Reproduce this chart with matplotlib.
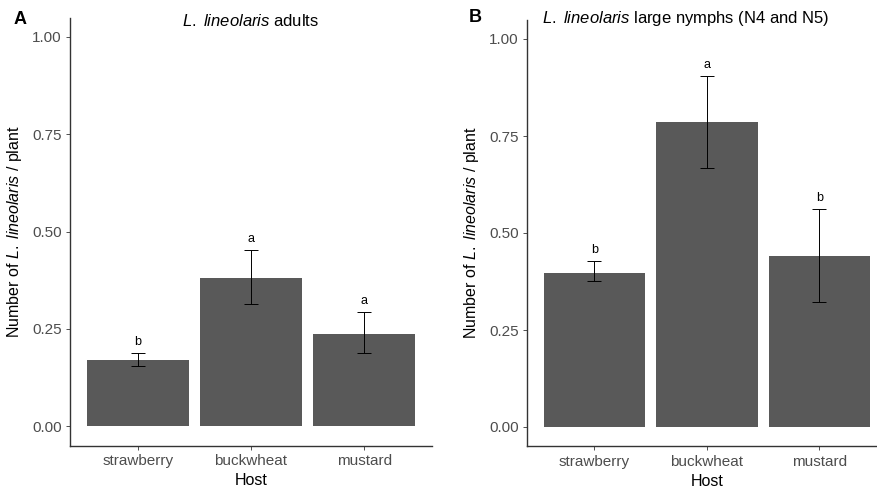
import matplotlib
matplotlib.use("Agg")
import matplotlib.pyplot as plt

# data
hosts = ["strawberry", "buckwheat", "mustard"]

adult_mean = [0.170, 0.381, 0.237]
adult_lo = [0.154, 0.314, 0.188]
adult_hi = [0.188, 0.452, 0.293]
adult_letters = ["b", "a", "a"]

nymph_mean = [0.398, 0.787, 0.441]
nymph_lo = [0.377, 0.667, 0.321]
nymph_hi = [0.429, 0.905, 0.561]
nymph_letters = ["b", "a", "b"]

yticks = [0.00, 0.25, 0.50, 0.75, 1.00]

plt.rcParams["font.family"] = ["Liberation Sans", "DejaVu Sans"]
plt.rcParams["mathtext.fontset"] = "custom"
plt.rcParams["mathtext.rm"] = "Liberation Sans"
plt.rcParams["mathtext.it"] = "Liberation Sans:italic"
plt.rcParams["mathtext.bf"] = "Liberation Sans:bold"

W, H = 878, 495
fig = plt.figure(figsize=(W / 100, H / 100), dpi=100)


def px_axes(x0, x1, ytop, ybot):
    return fig.add_axes([x0 / W, (H - ybot) / H, (x1 - x0) / W, (ybot - ytop) / H])


def panel(ax, mean, lo, hi, letters):
    x = list(range(1, len(hosts) + 1))
    ax.bar(x, mean, width=0.9, color="#595959")
    yerr = [[m - l for m, l in zip(mean, lo)], [h - m for m, h in zip(mean, hi)]]
    ax.errorbar(x, mean, yerr=yerr, fmt="none", ecolor="black",
                elinewidth=0.7, capsize=5, capthick=0.7)
    for xi, h, lab in zip(x, hi, letters):
        ax.text(xi, h + 0.028, lab, ha="center", va="center", fontsize=9)
    ax.set_xlim(0.4, 3.6)
    ax.set_ylim(-0.05, 1.05)
    ax.set_xticks(x)
    ax.set_xticklabels(hosts)
    ax.set_yticks(yticks)
    ax.set_yticklabels([f"{v:.2f}" for v in yticks])
    for s in ("top", "right"):
        ax.spines[s].set_visible(False)
    for s in ("left", "bottom"):
        ax.spines[s].set_color("#333333")
        ax.spines[s].set_linewidth(1.0)
    ax.tick_params(axis="both", length=3, width=0.6, color="#333333",
                   labelsize=11, labelcolor="#4D4D4D", pad=3)
    ax.set_xlabel("Host", fontsize=11.5, labelpad=4)
    ax.set_ylabel("Number of $\\it{L.~lineolaris}$ / plant", fontsize=11.5, labelpad=6)


axA = px_axes(70, 432, 17.5, 445.5)
panel(axA, adult_mean, adult_lo, adult_hi, adult_letters)
axB = px_axes(527, 887, 19.6, 446.4)
panel(axB, nymph_mean, nymph_lo, nymph_hi, nymph_letters)

fig.text(251 / W, 1 - 21 / H, "$\\it{L.~lineolaris}$ adults", ha="center", va="center", fontsize=12)
fig.text(686 / W, 1 - 19 / H, "$\\it{L.~lineolaris}$ large nymphs (N4 and N5)",
         ha="center", va="center", fontsize=12)
fig.text(20 / W, 1 - 19 / H, "A", ha="center", va="center", fontsize=13, fontweight="bold")
fig.text(475 / W, 1 - 18 / H, "B", ha="center", va="center", fontsize=13, fontweight="bold")

fig.savefig("out.png", dpi=100)
